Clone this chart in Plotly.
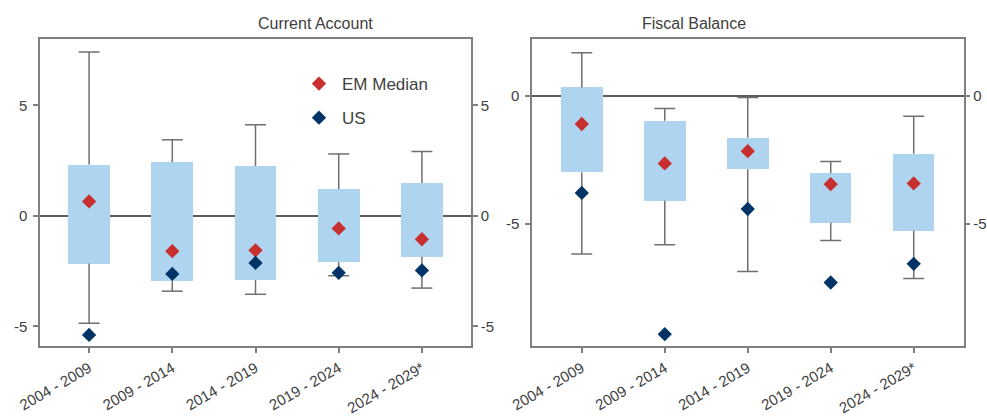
import plotly.graph_objects as go

# Periods on the horizontal axis
periods = ["2004 - 2009", "2009 - 2014", "2014 - 2019", "2019 - 2024", "2024 - 2029*"]

# Current account (% of GDP): distribution across EMs plus EM median and US
ca_whisker_hi = [7.41, 3.44, 4.12, 2.80, 2.91]
ca_box_hi = [2.32, 2.43, 2.25, 1.21, 1.49]
ca_box_lo = [-2.16, -2.94, -2.91, -2.09, -1.85]
ca_whisker_lo = [-4.86, -3.41, -3.55, -2.71, -3.27]
ca_em_median = [0.65, -1.60, -1.56, -0.57, -1.06]
ca_us = [-5.39, -2.63, -2.13, -2.58, -2.47]

# Fiscal balance (% of GDP)
fb_whisker_hi = [1.69, -0.48, -0.05, -2.55, -0.79]
fb_box_hi = [0.34, -0.96, -1.63, -3.01, -2.25]
fb_box_lo = [-2.97, -4.09, -2.86, -4.95, -5.25]
fb_whisker_lo = [-6.17, -5.81, -6.85, -5.64, -7.12]
fb_em_median = [-1.09, -2.63, -2.15, -3.44, -3.41]
fb_us = [-3.78, -9.30, -4.41, -7.28, -6.55]

# Y tick positions and their labels (plain hyphen as minus sign)
ca_ticks = [-5, 0, 5]
fb_ticks = [-5, 0]

BOX_COLOR = "#AFD4F0"
WHISKER_COLOR = "#6F6F6F"
EM_COLOR = "#C8302F"
US_COLOR = "#003466"
AXIS_COLOR = "#7F7F7F"
TEXT_COLOR = "#404040"
FONT = "Liberation Sans, Arial, sans-serif"
CAP = 0.126
idx = list(range(len(periods)))


def whisker_path(box_hi, box_lo, wh_hi, wh_lo):
    xs, ys = [], []
    for i, bh, bl, wh, wl in zip(idx, box_hi, box_lo, wh_hi, wh_lo):
        xs += [i, i, None, i - CAP, i + CAP, None]
        ys += [bh, wh, None, wh, wh, None]
        xs += [i, i, None, i - CAP, i + CAP, None]
        ys += [bl, wl, None, wl, wl, None]
    return xs, ys


fig = go.Figure()


def add_panel(xa, ya, box_hi, box_lo, wh_hi, wh_lo, em, us, legend):
    fig.add_trace(go.Bar(
        x=idx, base=box_lo, y=[h - l for h, l in zip(box_hi, box_lo)],
        width=0.5, marker=dict(color=BOX_COLOR, line=dict(width=0)),
        xaxis=xa, yaxis=ya, showlegend=False, hoverinfo="skip"))
    wx, wy = whisker_path(box_hi, box_lo, wh_hi, wh_lo)
    fig.add_trace(go.Scatter(
        x=wx, y=wy, mode="lines", line=dict(color=WHISKER_COLOR, width=1.5),
        xaxis=xa, yaxis=ya, showlegend=False, hoverinfo="skip"))
    fig.add_trace(go.Scatter(
        x=idx, y=em, mode="markers", name="EM Median",
        marker=dict(symbol="diamond", size=11, color=EM_COLOR),
        xaxis=xa, yaxis=ya, showlegend=legend, legendgroup="em"))
    fig.add_trace(go.Scatter(
        x=idx, y=us, mode="markers", name="US",
        marker=dict(symbol="diamond", size=11, color=US_COLOR),
        xaxis=xa, yaxis=ya, showlegend=legend, legendgroup="us"))


add_panel("x", "y", ca_box_hi, ca_box_lo, ca_whisker_hi, ca_whisker_lo,
          ca_em_median, ca_us, True)
add_panel("x2", "y2", fb_box_hi, fb_box_lo, fb_whisker_hi, fb_whisker_lo,
          fb_em_median, fb_us, False)

# Invisible traces bind the right-hand mirror axes so their labels render
fig.add_trace(go.Scatter(x=[None], y=[None], xaxis="x", yaxis="y3",
                         showlegend=False, hoverinfo="skip"))
fig.add_trace(go.Scatter(x=[None], y=[None], xaxis="x2", yaxis="y4",
                         showlegend=False, hoverinfo="skip"))

W, H = 987, 417
y_dom = [(H - 346) / H, (H - 39) / H]
x1_dom = [40 / W, 471 / W]
x2_dom = [532 / W, 963.5 / W]

tickfont = dict(family=FONT, size=15, color=TEXT_COLOR)
common_x = dict(
    tickmode="array", tickvals=idx, ticktext=periods, tickangle=-30,
    showline=True, linecolor=AXIS_COLOR, linewidth=1.5, mirror=True,
    ticks="outside", ticklen=5, tickcolor=AXIS_COLOR, tickwidth=1.5,
    showgrid=False, zeroline=False, tickfont=tickfont, fixedrange=True,
    automargin=False, ticklabelstandoff=1)
common_y = dict(
    showline=True, linecolor=AXIS_COLOR, linewidth=1.5,
    ticks="outside", ticklen=5, tickcolor=AXIS_COLOR, tickwidth=1.5,
    showgrid=False, tickfont=tickfont, domain=y_dom, fixedrange=True,
    automargin=False, tickmode="array")

ca_range = [-5.89, 8.0]
fb_range = [-9.76, 2.23]
ca_text = [str(t) for t in ca_ticks]
fb_text = [str(t) for t in fb_ticks]

fig.update_layout(
    width=W, height=H,
    margin=dict(l=0, r=0, t=0, b=0),
    paper_bgcolor="white", plot_bgcolor="white",
    font=dict(family=FONT, color=TEXT_COLOR),
    xaxis=dict(common_x, domain=x1_dom, anchor="y", range=[-0.59, 4.59]),
    yaxis=dict(common_y, anchor="x", range=ca_range, tickvals=ca_ticks, ticktext=ca_text,
               ticklabelstandoff=3,
               zeroline=True, zerolinecolor="#5A5A5A", zerolinewidth=1.5),
    yaxis3=dict(common_y, anchor="x", overlaying="y", side="right",
                range=ca_range, tickvals=ca_ticks, ticktext=ca_text, zeroline=False),
    xaxis2=dict(common_x, domain=x2_dom, anchor="y2", range=[-0.6, 4.6]),
    yaxis2=dict(common_y, anchor="x2", range=fb_range, tickvals=fb_ticks, ticktext=fb_text,
                ticklabelstandoff=3,
                zeroline=True, zerolinecolor="#5A5A5A", zerolinewidth=1.5),
    yaxis4=dict(common_y, anchor="x2", overlaying="y2", side="right",
                range=fb_range, tickvals=fb_ticks, ticktext=fb_text, zeroline=False),
    legend=dict(x=296 / W, xanchor="left", y=(H - 66) / H, yanchor="top",
                bgcolor="rgba(0,0,0,0)", font=dict(family=FONT, size=17, color=TEXT_COLOR),
                traceorder="grouped", tracegroupgap=9, itemwidth=36),
    showlegend=True,
    bargap=0,
    annotations=[
        dict(text="Current Account", x=(x1_dom[0] + x1_dom[1]) / 2, y=(H - 24) / H,
             xref="paper", yref="paper", showarrow=False, yanchor="middle",
             font=dict(family=FONT, size=16, color=TEXT_COLOR)),
        dict(text="Fiscal Balance", x=(x2_dom[0] + x2_dom[1]) / 2, y=(H - 24) / H,
             xref="paper", yref="paper", showarrow=False, yanchor="middle",
             font=dict(family=FONT, size=16, color=TEXT_COLOR)),
    ],
)

fig.write_html("out.html")
